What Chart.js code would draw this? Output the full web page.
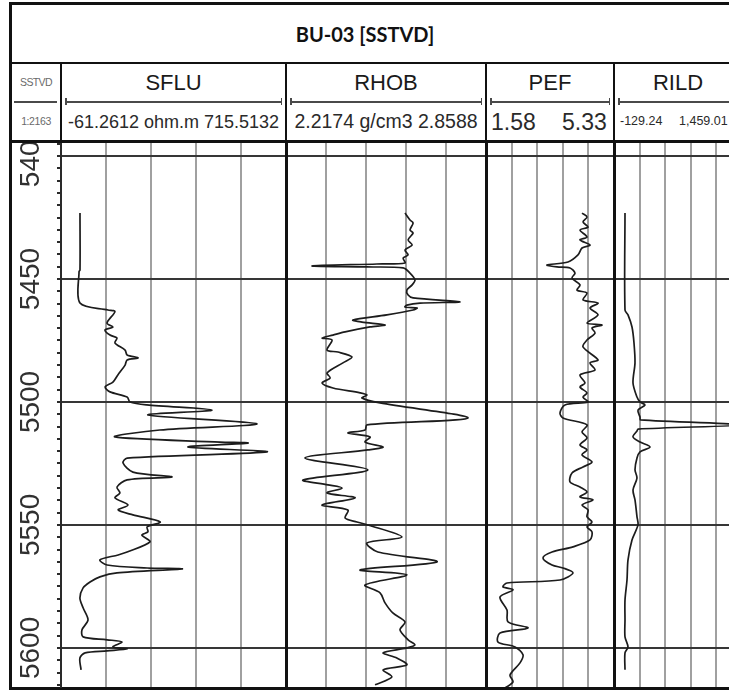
<!DOCTYPE html>
<html>
<head>
<meta charset="utf-8">
<title>BU-03 [SSTVD]</title>
<script src="https://cdn.jsdelivr.net/npm/chart.js@4"></script>
<style>
  html, body { margin: 0; padding: 0; overflow: hidden; background: #fff; }
  #log { position: relative; width: 729px; height: 690px; overflow: hidden;
         font-family: "Liberation Sans", Arial, sans-serif; color: #1e1e1e; }
  #log canvas { position: absolute; }
  .ln { position: absolute; background: #111; }
  .cell { position: absolute; display: flex; align-items: center; justify-content: center;
          white-space: nowrap; line-height: 1; }
  .txt { position: absolute; white-space: nowrap; line-height: 1; }
</style>
</head>
<body>
<div id="log">
  <canvas id="sflu" width="275" height="545" style="left:11px;top:143px"></canvas>
  <canvas id="rhob" width="200" height="545" style="left:286px;top:143px"></canvas>
  <canvas id="pef" width="128" height="545" style="left:486px;top:143px"></canvas>
  <canvas id="rild" width="128" height="545" style="left:614px;top:143px"></canvas>
</div>
<script>
// depth window of the plot (ft, SSTVD)
const depthTop = 5394.7;
const depthBottom = 5616.3;
const depthLabels = [5400, 5450, 5500, 5550, 5600];
const depthStep = 5;

const trackNames = ["SFLU", "RHOB", "PEF", "RILD"];
const trackUnits = ["ohm.m", "g/cm3", "", ""];
const trackMin = [-61.2612, 2.2174, 1.58, -129.24];
const trackMax = [715.5132, 2.8588, 5.33, 1459.01];

const sfluDepth = [5423.2, 5446.3, 5447.0, 5459.8, 5462.6, 5463.2, 5467.9, 5469.5, 5470.7, 5472.8,
  5474.0, 5476.0, 5478.9, 5480.9, 5482.1, 5482.9, 5485.0, 5489.0, 5491.9, 5493.9,
  5495.9, 5498.0, 5500.0, 5501.2, 5503.3, 5505.3, 5508.9, 5511.4, 5514.2, 5516.3,
  5516.7, 5518.3, 5520.3, 5522.8, 5524.8, 5528.5, 5530.5, 5531.7, 5534.6, 5537.0,
  5539.0, 5541.9, 5543.9, 5545.9, 5548.8, 5550.8, 5552.8, 5554.1, 5556.9, 5561.0,
  5562.2, 5564.2, 5566.3, 5567.5, 5567.9, 5569.5, 5571.1, 5573.2, 5575.6, 5579.7,
  5583.7, 5588.6, 5592.7, 5595.5, 5596.7, 5597.6, 5599.6, 5600.4, 5601.2, 5602.0,
  5604.1, 5608.9];
const sfluValue = [4.3, 4.3, 1.0, 4.3, 101, 125, 97.5, 118, 90.6, 108,
  132, 125, 160, 167, 205, 167, 160, 135, 118, 91,
  108, 167, 177, 235, 460, 239, 615, 280, 125, 488,
  584, 377, 650, 167, 153, 187, 322, 167, 132, 142,
  125, 170, 136, 187, 281, 236, 239, 218, 246, 167,
  136, 73, 98, 236, 357, 132, 73, 39, 15, 4,
  15, 32, 11, 15, 98, 149, 118, 167, 98, 22,
  4, 8];

const rhobDepth = [5423.2, 5426.0, 5427.2, 5430.1, 5431.3, 5434.1, 5436.2, 5438.2, 5440.2, 5441.5,
  5443.5, 5443.9, 5444.7, 5445.1, 5445.5, 5447.6, 5450.4, 5452.4, 5454.5, 5456.5,
  5457.7, 5459.3, 5459.8, 5460.6, 5461.4, 5461.8, 5462.6, 5464.6, 5466.7, 5467.5,
  5468.7, 5469.5, 5471.5, 5472.8, 5474.0, 5474.8, 5478.9, 5479.7, 5481.7, 5484.1,
  5488.2, 5490.2, 5492.3, 5494.3, 5496.3, 5497.2, 5498.4, 5500.4, 5506.5, 5509.3,
  5511.4, 5512.6, 5514.2, 5516.3, 5518.3, 5519.5, 5522.8, 5527.6, 5531.7, 5533.7,
  5535.0, 5537.0, 5539.0, 5541.9, 5543.9, 5547.2, 5548.8, 5550.0, 5554.9, 5557.3,
  5561.0, 5565.0, 5568.3, 5570.3, 5574.4, 5577.6, 5581.7, 5585.8, 5589.4, 5592.7,
  5596.7, 5598.8, 5600.0, 5602.0, 5604.1, 5606.9, 5608.9, 5611.8, 5615.0];
const rhobValue = [2.599, 2.615, 2.625, 2.615, 2.625, 2.609, 2.622, 2.599, 2.609, 2.593,
  2.599, 2.509, 2.301, 2.477, 2.593, 2.615, 2.631, 2.622, 2.605, 2.609,
  2.625, 2.775, 2.647, 2.605, 2.599, 2.638, 2.625, 2.541, 2.432, 2.461,
  2.535, 2.487, 2.407, 2.368, 2.333, 2.365, 2.349, 2.384, 2.429, 2.400,
  2.349, 2.359, 2.333, 2.368, 2.455, 2.477, 2.461, 2.519, 2.801, 2.477,
  2.471, 2.416, 2.487, 2.471, 2.529, 2.480, 2.278, 2.480, 2.272, 2.352,
  2.397, 2.349, 2.439, 2.333, 2.416, 2.407, 2.445, 2.480, 2.589, 2.477,
  2.512, 2.702, 2.455, 2.605, 2.471, 2.519, 2.535, 2.560, 2.599, 2.583,
  2.609, 2.631, 2.605, 2.529, 2.573, 2.605, 2.529, 2.557, 2.503];

const pefDepth = [5423.2, 5424.8, 5426.8, 5428.9, 5430.1, 5432.9, 5434.1, 5436.2, 5437.4, 5440.2,
  5443.1, 5444.3, 5445.1, 5445.5, 5447.6, 5449.6, 5452.4, 5454.5, 5455.7, 5458.5,
  5459.8, 5461.8, 5464.6, 5467.9, 5468.7, 5469.9, 5472.0, 5474.8, 5477.6, 5482.9,
  5484.1, 5487.0, 5489.0, 5492.3, 5493.9, 5496.3, 5498.0, 5500.0, 5501.2, 5504.5,
  5506.5, 5509.3, 5512.2, 5514.6, 5517.5, 5519.5, 5521.5, 5524.4, 5526.4, 5528.9,
  5532.5, 5534.6, 5536.6, 5538.6, 5539.8, 5541.9, 5543.9, 5546.7, 5548.8, 5550.8,
  5552.8, 5556.1, 5558.9, 5561.0, 5563.4, 5566.3, 5567.5, 5569.5, 5572.4, 5573.6,
  5575.2, 5576.4, 5579.3, 5584.6, 5589.4, 5591.9, 5593.9, 5597.6, 5599.6, 5602.8,
  5606.1, 5611.0, 5613.8, 5616.3];
const pefValue = [4.393, 4.539, 4.422, 4.568, 4.334, 4.539, 4.334, 4.627, 4.393, 4.275,
  3.982, 3.367, 3.660, 4.041, 4.187, 4.100, 4.334, 4.246, 4.539, 4.422,
  4.861, 4.627, 4.861, 4.539, 4.978, 4.685, 4.773, 4.539, 4.422, 4.861,
  4.627, 4.773, 4.334, 4.480, 4.334, 4.539, 4.422, 4.568, 3.894, 3.748,
  3.836, 4.539, 4.393, 4.539, 4.334, 4.539, 4.393, 4.685, 4.422, 4.100,
  4.041, 4.334, 4.539, 4.334, 4.715, 4.393, 4.568, 4.539, 4.685, 4.539,
  4.685, 4.627, 4.129, 3.514, 3.250, 3.514, 3.836, 4.129, 3.748, 2.195,
  2.078, 2.371, 1.990, 2.195, 2.225, 2.810, 1.990, 1.932, 2.430, 2.664,
  2.576, 2.283, 2.371, 2.137];

const rildDepth = [5423.2, 5462.6, 5464.6, 5469.5, 5476.0, 5484.1, 5492.3, 5498.0, 5500.0, 5501.2,
  5503.3, 5506.1, 5507.3, 5509.3, 5511.0, 5511.8, 5514.2, 5516.3, 5518.3, 5520.3,
  5522.8, 5527.6, 5530.9, 5535.8, 5539.8, 5546.7, 5550.0, 5556.1, 5564.2, 5572.4,
  5580.5, 5588.6, 5595.5, 5599.6, 5602.0, 5608.9];
const rildValue = [7.2, 7.2, 44.5, 94.1, 118.9, 131.3, 106.5, 156.1, 193.4, 255.4,
  168.5, 193.4, 200, 1440, 170, 156.1, 106.5, 193.4, 317.4, 193.4,
  156.1, 131.3, 156.1, 106.5, 131.3, 156.1, 168.5, 94.1, 44.5, 32.1,
  7.2, 7.2, 7.2, 44.5, 7.2, 7.2];

const log = document.getElementById("log");

function addLine(left, top, width, height, color) {
  const d = document.createElement("div");
  d.className = "ln";
  d.style.cssText = `left:${left}px;top:${top}px;width:${width}px;height:${height}px;` +
    (color ? `background:${color};` : "");
  log.appendChild(d);
}

function addCell(html, left, top, width, height, css) {
  const d = document.createElement("div");
  d.className = "cell";
  d.style.cssText = `left:${left}px;top:${top}px;width:${width}px;height:${height}px;${css}`;
  d.innerHTML = html;
  log.appendChild(d);
}

function addText(html, left, top, css) {
  const d = document.createElement("div");
  d.className = "txt";
  d.style.cssText = `left:${left}px;top:${top}px;${css}`;
  d.innerHTML = html;
  log.appendChild(d);
}

// scale bar under each curve name, with end ticks
function scaleBar(x1, x2, ticks) {
  addLine(x1, 101, x2 - x1, 1.5, "#4a4a4a");
  if (ticks) {
    addLine(x1, 98, 1.5, 7, "#4a4a4a");
    addLine(x2 - 1.5, 98, 1.5, 7, "#4a4a4a");
  }
}

const colLeft = [61, 286, 486, 614];
const colRight = [286, 486, 614, 742];

// ---- header ----
addCell("BU-03 [SSTVD]", 12, 5, 706, 57,
  "font-family:Lato,'Open Sans',sans-serif;font-weight:bold;font-size:20px;color:#111;");
addCell("SSTVD", 12, 64, 48, 37, "font-size:10.5px;color:#6a6a6a;letter-spacing:-0.6px;");
addCell("1:2163", 12, 103, 48, 37, "font-size:10.5px;color:#6a6a6a;letter-spacing:-0.4px;");
scaleBar(14, 57, false);

trackNames.forEach((name, i) => {
  addCell(name, colLeft[i], 64, colRight[i] - colLeft[i], 37, "font-size:22px;color:#1a1a1a;");
  scaleBar(colLeft[i] + 4, colRight[i] - 4, true);
});
addCell(`${trackMin[0]} ${trackUnits[0]} ${trackMax[0]}`, 61, 103, 225, 37, "font-size:18px;color:#2a2a2a;");
addCell(`${trackMin[1]} ${trackUnits[1]} ${trackMax[1]}`, 286, 103, 200, 37, "font-size:19.5px;color:#2a2a2a;");
addText(trackMin[2].toFixed(2), 491, 111, "font-size:23px;color:#2a2a2a;");
addText(trackMax[2].toFixed(2), 562, 111, "font-size:23px;color:#2a2a2a;");
addText(trackMin[3].toFixed(2), 620, 115, "font-size:12.5px;color:#2a2a2a;");
addText(trackMax[3].toLocaleString("en-US", { minimumFractionDigits: 2 }), 679, 115,
  "font-size:12.5px;color:#2a2a2a;");

// ---- frame ----
addLine(9, 2, 720, 3);
addLine(9, 2, 3, 688);
addLine(9, 62, 720, 2);
addLine(9, 140, 720, 3);
addLine(9, 687, 720, 3);
addLine(60, 63, 2, 78);
[285, 485, 613].forEach(x => addLine(x, 63, 2, 78));
addLine(60, 143, 2, 545, "#2a2a2a");
[285, 485, 613].forEach(x => addLine(x, 143, 3, 545));

// ---- curve tracks ----
function trackChart(id, i, depth, value, withDepth) {
  const min = trackMin[i], max = trackMax[i];
  const step = (max - min) / 5;
  const pts = depth.map((d, k) => ({ x: value[k], y: d }));

  const depthTicks = [];
  if (withDepth) {
    for (let d = 5395; d <= depthBottom; d += depthStep) depthTicks.push(d);
  }

  return new Chart(document.getElementById(id), {
    type: "scatter",
    data: {
      datasets: [{
        data: pts,
        showLine: true,
        borderColor: "#1c1c1c",
        borderWidth: 1.7,
        pointRadius: 0,
        tension: 0.3,
      }],
    },
    options: {
      responsive: false,
      animation: false,
      events: [],
      layout: { padding: 0 },
      plugins: { legend: { display: false }, tooltip: { enabled: false } },
      scales: {
        x: {
          type: "linear",
          position: "top",
          min: min,
          max: max,
          afterBuildTicks: s => { s.ticks = [0, 1, 2, 3, 4, 5].map(k => ({ value: min + k * step })); },
          ticks: { display: false },
          grid: {
            color: c => (c.index === 0 || c.index === 5) ? "rgba(0,0,0,0)" : "#a0a0a0",
            lineWidth: 2,
            drawTicks: false,
          },
          border: { display: false },
          afterFit: s => { s.height = 0; s.paddingLeft = 0; s.paddingRight = 0; },
        },
        y: {
          type: "linear",
          reverse: true,
          min: depthTop,
          max: depthBottom,
          afterBuildTicks: s => {
            s.ticks = (withDepth ? depthTicks : depthLabels).map(v => ({ value: v }));
          },
          ticks: {
            display: withDepth,
            autoSkip: false,
            minRotation: 90,
            maxRotation: 90,
            crossAlign: "center",
            padding: -5,
            color: "#303030",
            font: { family: "Liberation Sans", size: 28 },
            callback: v => (v % 50 === 0 ? String(v) : ""),
          },
          grid: {
            color: c => (c.tick && c.tick.value % 50 === 0 ? "#363636" : "rgba(0,0,0,0)"),
            tickColor: "#2a2a2a",
            lineWidth: 2,
            tickLength: 4,
            drawTicks: withDepth,
          },
          border: { display: false },
          afterFit: s => {
            s.width = withDepth ? 50 : 0;
            s.paddingTop = 0;
            s.paddingBottom = 0;
          },
        },
      },
    },
  });
}

trackChart("sflu", 0, sfluDepth, sfluValue, true);
trackChart("rhob", 1, rhobDepth, rhobValue, false);
trackChart("pef", 2, pefDepth, pefValue, false);
trackChart("rild", 3, rildDepth, rildValue, false);
</script>
</body>
</html>
